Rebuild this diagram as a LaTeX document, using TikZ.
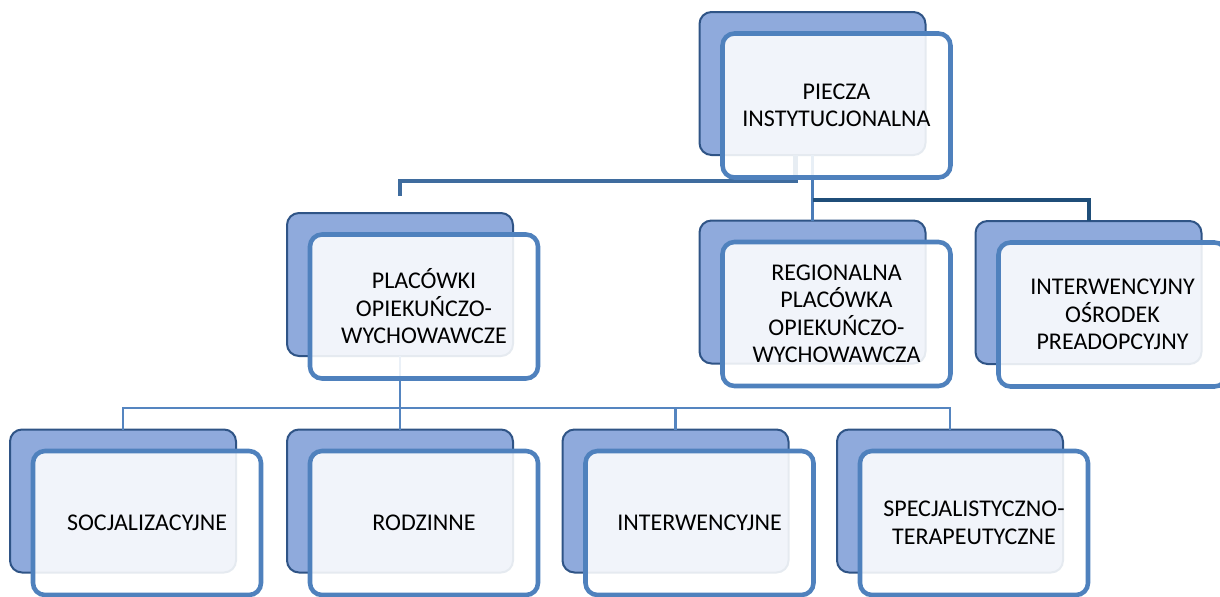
\documentclass[tikz,border=0pt]{standalone}
\usepackage{fontspec}
\setmainfont{Carlito}
\definecolor{backfill}{HTML}{8FAADC}
\definecolor{backline}{HTML}{2F5486}
\definecolor{frontline}{HTML}{4F81BD}
\definecolor{cone}{HTML}{3F6C9E}
\definecolor{ctwo}{HTML}{4A7CB8}
\definecolor{cthree}{HTML}{1F4E79}
\definecolor{cfour}{HTML}{5585C0}
\tikzset{
  backbox/.style={draw=backline, line width=1.5pt, fill=backfill, rounded corners=9pt,
    minimum width=169.5pt, minimum height=107.25pt, inner sep=0pt, outer sep=0pt},
  frontbox/.style={draw=frontline, line width=3.4pt, fill=white, fill opacity=0.88, text opacity=1,
    rounded corners=9pt, minimum width=171pt, minimum height=108pt, inner sep=2pt, outer sep=0pt,
    align=center, text width=165pt,
    font=\fontsize{18pt}{20.6pt}\selectfont, text=black},
  connone/.style={draw=cone, line width=3.6pt},
  conntwo/.style={draw=ctwo, line width=2.2pt},
  connthree/.style={draw=cthree, line width=3pt},
  connfour/.style={draw=cfour, line width=2pt},
}
\begin{document}
\begin{tikzpicture}[x=0.75pt, y=-0.75pt]
\useasboundingbox (0,0) rectangle (1220,596);
% back boxes
\node[backbox] (b0) at (812.5,83.5) {};
\node[backbox] (b1) at (400,284.5) {};
\node[backbox] (b2) at (812.5,292) {};
\node[backbox] (b3) at (1088.5,292.5) {};
\node[backbox] (b4) at (123,501) {};
\node[backbox] (b5) at (400,501) {};
\node[backbox] (b6) at (675.5,501) {};
\node[backbox] (b7) at (950,501) {};
% connectors
\coordinate (c1end) at (400,196);
\draw[connone] ([xshift=-12.75pt]b0.south) -- ++(0,26) -| (c1end);
\draw[conntwo] (b0.south) -- (b2.north);
\draw[connthree] ([yshift=-33.75pt]b0.south) -| (b3.north);
\foreach \c in {b4,b5,b6,b7}
  \draw[connfour] (b1.south) -- ++(0,52) -| (\c.north);
% front boxes
\node[frontbox] (f0) at (836.5,105.5) {PIECZA\\INSTYTUCJONALNA};
\node[frontbox] (f1) at (424,306.5) {PLACÓWKI\\OPIEKUŃCZO-\\WYCHOWAWCZE};
\node[frontbox] (f2) at (836.5,314) {REGIONALNA\\PLACÓWKA\\OPIEKUŃCZO-\\WYCHOWAWCZA};
\node[frontbox] (f3) at (1112.5,314.5) {INTERWENCYJNY\\OŚRODEK\\PREADOPCYJNY};
\node[frontbox] (f4) at (147,523) {SOCJALIZACYJNE};
\node[frontbox] (f5) at (424,523) {RODZINNE};
\node[frontbox] (f6) at (699.5,523) {INTERWENCYJNE};
\node[frontbox] (f7) at (974,523) {SPECJALISTYCZNO-\\TERAPEUTYCZNE};
\end{tikzpicture}
\end{document}
